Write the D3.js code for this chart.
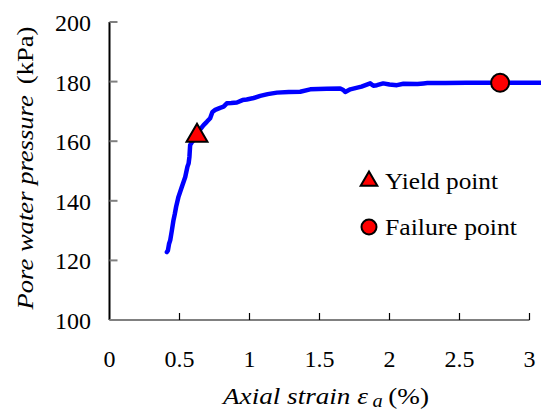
<!DOCTYPE html>
<html>
<head>
<meta charset="utf-8">
<script src="https://cdn.jsdelivr.net/npm/d3@7"></script>
<style>
  text, tspan { font-family: 'Liberation Serif' !important; }
</style>
</head>
<body style="margin:0">
<svg id="chart" width="541" height="412"></svg>
<script>
// axial strain (%) and pore water pressure (kPa)
const strain = [0.41, 0.417, 0.425, 0.434, 0.446, 0.457, 0.466, 0.476, 0.493, 0.505, 0.517, 0.53, 0.541, 0.557, 0.565, 0.571, 0.576, 0.59, 0.605, 0.62,
    0.64, 0.672, 0.695, 0.719, 0.735, 0.755, 0.79, 0.815, 0.838, 0.87, 0.91, 0.95, 0.98, 1.03, 1.077, 1.13, 1.196, 1.28, 1.362, 1.434,
    1.55, 1.648, 1.67, 1.684, 1.72, 1.8, 1.862, 1.885, 1.91, 1.955, 2.0, 2.053, 2.1, 2.2, 2.243, 2.27, 2.4, 2.55, 2.696, 2.79, 2.95, 3.08];
const pressure = [122.8, 123.3, 125.5, 126.8, 130.2, 133.5, 135.5, 138, 141.4, 143, 144.7, 146.5, 148, 151.5, 152.5, 154.8, 158.7, 159.8, 160.5, 161.5,
    163.5, 165.4, 166.5, 167.7, 169.8, 170.5, 171.2, 171.6, 172.7, 172.8, 173, 173.8, 174, 174.5, 175.2, 175.8, 176.3, 176.5, 176.6, 177.4,
    177.6, 177.7, 177.2, 176.5, 177.4, 178.3, 179.4, 178.6, 178.8, 179.4, 179.0, 178.8, 179.3, 179.2, 179.4, 179.5, 179.5, 179.6, 179.6, 179.6, 179.6, 179.6];

const yieldPoint = [0.625, 161.5];
const failurePoint = [2.79, 179.6];

const xTicks = [0, 0.5, 1, 1.5, 2, 2.5, 3];
const yTicks = [100, 120, 140, 160, 180, 200];

const FONT = "'Liberation Serif'";

const svg = d3.select("#chart");

const x = d3.scaleLinear().domain([0, 3]).range([109.5, 529.5]);
const y = d3.scaleLinear().domain([100, 200]).range([320, 22]);

// texts first
svg.selectAll(".ylab")
    .data(yTicks)
    .enter().append("text")
    .attr("class", "ylab")
    .attr("x", 91)
    .attr("y", function (d) { return y(d) + 9; })
    .attr("text-anchor", "end")
    .attr("font-size", 24)
    .style("font-family", FONT)
    .text(function (d) { return d; });

svg.selectAll(".xlab")
    .data(xTicks)
    .enter().append("text")
    .attr("class", "xlab")
    .attr("x", function (d) { return x(d); })
    .attr("y", 367)
    .attr("text-anchor", "middle")
    .attr("font-size", 24)
    .style("font-family", FONT)
    .text(function (d) { return d; });

const xt = svg.append("text")
    .attr("x", 326).attr("y", 404)
    .attr("text-anchor", "middle")
    .attr("textLength", 206)
    .attr("lengthAdjust", "spacingAndGlyphs")
    .attr("font-size", 24)
    .style("font-family", FONT);
xt.append("tspan").style("font-style", "italic").text("Axial strain ε");
xt.append("tspan").style("font-style", "italic").attr("font-size", 18).attr("dx", 4).attr("dy", 3).text("a");
xt.append("tspan").attr("dy", -3).attr("dx", 5).text("(%)");

const yt = svg.append("text")
    .attr("transform", "translate(33,168) rotate(-90)")
    .attr("text-anchor", "middle")
    .attr("textLength", 283)
    .attr("lengthAdjust", "spacingAndGlyphs")
    .attr("font-size", 24)
    .style("font-family", FONT);
yt.append("tspan").style("font-style", "italic").text("Pore water pressure");
yt.append("tspan").attr("dx", 10).text("(kPa)");

svg.append("text")
    .attr("x", 385).attr("y", 189)
    .attr("textLength", 113)
    .attr("lengthAdjust", "spacingAndGlyphs")
    .attr("font-size", 24)
    .style("font-family", FONT)
    .text("Yield point");

svg.append("text")
    .attr("x", 385).attr("y", 235)
    .attr("textLength", 132)
    .attr("lengthAdjust", "spacingAndGlyphs")
    .attr("font-size", 24)
    .style("font-family", FONT)
    .text("Failure point");

// y axis: black line, gray ticks pointing inward
svg.append("line")
    .attr("x1", x(0)).attr("x2", x(0))
    .attr("y1", y(200)).attr("y2", y(100))
    .attr("stroke", "#000").attr("stroke-width", 2);

svg.selectAll(".ytick")
    .data(yTicks)
    .enter().append("line")
    .attr("class", "ytick")
    .attr("x1", x(0)).attr("x2", x(0) + 8)
    .attr("y1", function (d) { return y(d); })
    .attr("y2", function (d) { return y(d); })
    .attr("stroke", "#808080").attr("stroke-width", 2);

// x axis: gray line, black ticks pointing up
svg.append("line")
    .attr("x1", x(0)).attr("x2", x(3))
    .attr("y1", y(100)).attr("y2", y(100))
    .attr("stroke", "#808080").attr("stroke-width", 2);

svg.selectAll(".xtick")
    .data(xTicks.slice(1))
    .enter().append("line")
    .attr("class", "xtick")
    .attr("x1", function (d) { return x(d); })
    .attr("x2", function (d) { return x(d); })
    .attr("y1", y(100)).attr("y2", y(100) - 7)
    .attr("stroke", "#000").attr("stroke-width", 1.2);

// curve
const line = d3.line()
    .x(function (d, i) { return x(strain[i]); })
    .y(function (d) { return y(d); });

svg.append("path")
    .datum(pressure)
    .attr("d", line)
    .attr("fill", "none")
    .attr("stroke", "#0000ff")
    .attr("stroke-width", 4.5)
    .attr("stroke-linejoin", "round")
    .attr("stroke-linecap", "round");

// markers
svg.append("path")
    .attr("d", d3.symbol().type(d3.symbolTriangle).size(190))
    .attr("transform", "translate(" + x(yieldPoint[0]) + "," + (y(yieldPoint[1]) - 1) + ")")
    .attr("fill", "#ff0000").attr("stroke", "#000").attr("stroke-width", 2);

svg.append("circle")
    .attr("cx", x(failurePoint[0])).attr("cy", y(failurePoint[1]))
    .attr("r", 9)
    .attr("fill", "#ff0000").attr("stroke", "#000").attr("stroke-width", 2);

// legend symbols
svg.append("path")
    .attr("d", d3.symbol().type(d3.symbolTriangle).size(120))
    .attr("transform", "translate(369,181)")
    .attr("fill", "#ff0000").attr("stroke", "#000").attr("stroke-width", 2);

svg.append("circle")
    .attr("cx", 369).attr("cy", 227).attr("r", 7.5)
    .attr("fill", "#ff0000").attr("stroke", "#000").attr("stroke-width", 2);
</script>
</body>
</html>
